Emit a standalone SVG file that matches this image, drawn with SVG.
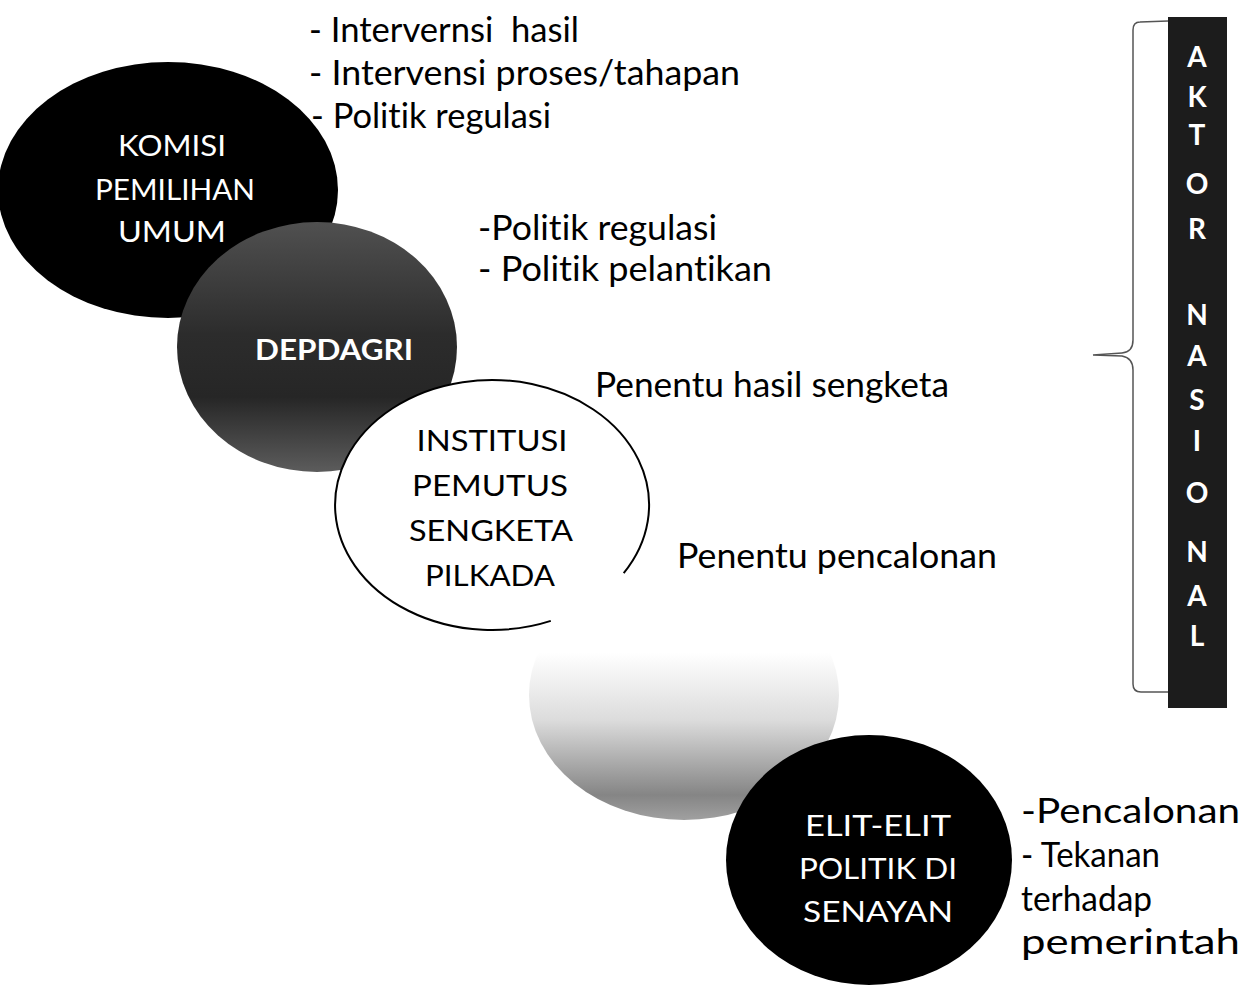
<svg xmlns="http://www.w3.org/2000/svg" width="1247" height="989" viewBox="0 0 1247 989">
<defs>
<style>
text{font-variant-ligatures:none;font-feature-settings:"liga" 0,"clig" 0}
.lbl{font-family:Lato,"Liberation Sans",Arial,sans-serif;font-size:35px;fill:#000}
.nw{font-family:Lato,"Liberation Sans",Arial,sans-serif;font-size:28px;fill:#fff;text-anchor:middle}
.nb{font-family:Lato,"Liberation Sans",Arial,sans-serif;font-size:28px;fill:#000;text-anchor:middle}
.bar{font-family:Lato,"Liberation Sans",Arial,sans-serif;font-size:28px;font-weight:bold;fill:#fff;text-anchor:middle}
.brace{fill:none;stroke:#555;stroke-width:1.5}
</style>
<linearGradient id="gDep" x1="0" y1="0" x2="0" y2="1">
<stop offset="0" stop-color="#505050"/>
<stop offset="0.45" stop-color="#2c2c2c"/>
<stop offset="0.7" stop-color="#262626"/>
<stop offset="1" stop-color="#5c5c5c"/>
</linearGradient>
<linearGradient id="gDpr" x1="0" y1="0" x2="0" y2="1">
<stop offset="0.33" stop-color="#ffffff"/>
<stop offset="0.6" stop-color="#dcdcdc"/>
<stop offset="0.9" stop-color="#858585"/>
<stop offset="1" stop-color="#a0a0a0"/>
</linearGradient>
</defs>
<rect width="1247" height="989" fill="#fff"/>

<g id="label-kpu">
<text class="lbl" x="309" y="42" textLength="270" lengthAdjust="spacingAndGlyphs" xml:space="preserve">- Intervernsi  hasil</text>
<text class="lbl" x="309" y="85" textLength="431" lengthAdjust="spacingAndGlyphs">- Intervensi proses/tahapan</text>
<text class="lbl" x="311" y="128" textLength="240" lengthAdjust="spacingAndGlyphs">- Politik regulasi</text>
</g>

<g id="node-kpu">
<ellipse cx="168" cy="190" rx="170" ry="128" fill="#000"/>
<text class="nw" x="172" y="156" textLength="108" lengthAdjust="spacingAndGlyphs">KOMISI</text>
<text class="nw" x="175" y="200" textLength="160" lengthAdjust="spacingAndGlyphs">PEMILIHAN</text>
<text class="nw" x="172" y="242" textLength="108" lengthAdjust="spacingAndGlyphs">UMUM</text>
</g>

<g id="node-depdagri">
<ellipse cx="317" cy="347" rx="140" ry="125" fill="url(#gDep)"/>
<text class="nw" x="334" y="360" style="font-weight:bold;font-size:29px" textLength="158" lengthAdjust="spacingAndGlyphs">DEPDAGRI</text>
</g>

<g id="label-depdagri">
<text class="lbl" x="478" y="240" textLength="239" lengthAdjust="spacingAndGlyphs">-Politik regulasi</text>
<text class="lbl" x="478" y="281" textLength="294" lengthAdjust="spacingAndGlyphs">- Politik pelantikan</text>
</g>

<g id="node-institusi">
<ellipse cx="492" cy="505" rx="157" ry="125" fill="#fff"/>
<path d="M550.8,620.9 A157,125 0 1 1 623.7,573.1" fill="none" stroke="#000" stroke-width="2"/>
<text class="nb" x="492" y="451" textLength="151" lengthAdjust="spacingAndGlyphs">INSTITUSI</text>
<text class="nb" x="490" y="496" textLength="156" lengthAdjust="spacingAndGlyphs">PEMUTUS</text>
<text class="nb" x="491" y="541" textLength="164" lengthAdjust="spacingAndGlyphs">SENGKETA</text>
<text class="nb" x="490" y="586" textLength="130" lengthAdjust="spacingAndGlyphs">PILKADA</text>
</g>

<g id="label-institusi">
<text class="lbl" x="595" y="397" textLength="354" lengthAdjust="spacingAndGlyphs">Penentu hasil sengketa</text>
<text class="lbl" x="677" y="568" textLength="320" lengthAdjust="spacingAndGlyphs">Penentu pencalonan</text>
</g>

<g id="node-dpr">
<ellipse cx="684" cy="695" rx="155" ry="125" fill="url(#gDpr)"/>
</g>

<g id="node-elit">
<ellipse cx="869" cy="860" rx="143" ry="125" fill="#000"/>
<text class="nw" x="878" y="836" textLength="146" lengthAdjust="spacingAndGlyphs">ELIT-ELIT</text>
<text class="nw" x="878" y="879" textLength="158" lengthAdjust="spacingAndGlyphs">POLITIK DI</text>
<text class="nw" x="878" y="922" textLength="150" lengthAdjust="spacingAndGlyphs">SENAYAN</text>
</g>

<g id="label-elit">
<text class="lbl" x="1021" y="823" textLength="219" lengthAdjust="spacingAndGlyphs">-Pencalonan</text>
<text class="lbl" x="1021" y="867" textLength="139" lengthAdjust="spacingAndGlyphs">- Tekanan</text>
<text class="lbl" x="1021" y="911" textLength="131" lengthAdjust="spacingAndGlyphs">terhadap</text>
<text class="lbl" x="1021" y="954" textLength="219" lengthAdjust="spacingAndGlyphs">pemerintah</text>
</g>

<g id="connectors">
<path class="brace" d="M1168,21 L1140,22 Q1133,22 1133,30 L1133,340 Q1133,352 1122,353 L1093,355 L1122,356 Q1133,358 1133,370 L1133,684 Q1133,692 1141,692 L1168,692"/>
</g>

<g id="node-aktor">
<rect x="1168" y="17" width="59" height="691" fill="#1c1c1c"/>
<text class="bar" x="1197" y="67">A</text>
<text class="bar" x="1197" y="107">K</text>
<text class="bar" x="1197" y="145">T</text>
<text class="bar" x="1197" y="194">O</text>
<text class="bar" x="1197" y="239">R</text>
<text class="bar" x="1197" y="325">N</text>
<text class="bar" x="1197" y="366">A</text>
<text class="bar" x="1197" y="410">S</text>
<text class="bar" x="1197" y="451">I</text>
<text class="bar" x="1197" y="503">O</text>
<text class="bar" x="1197" y="562">N</text>
<text class="bar" x="1197" y="606">A</text>
<text class="bar" x="1197" y="646">L</text>
</g>
</svg>
